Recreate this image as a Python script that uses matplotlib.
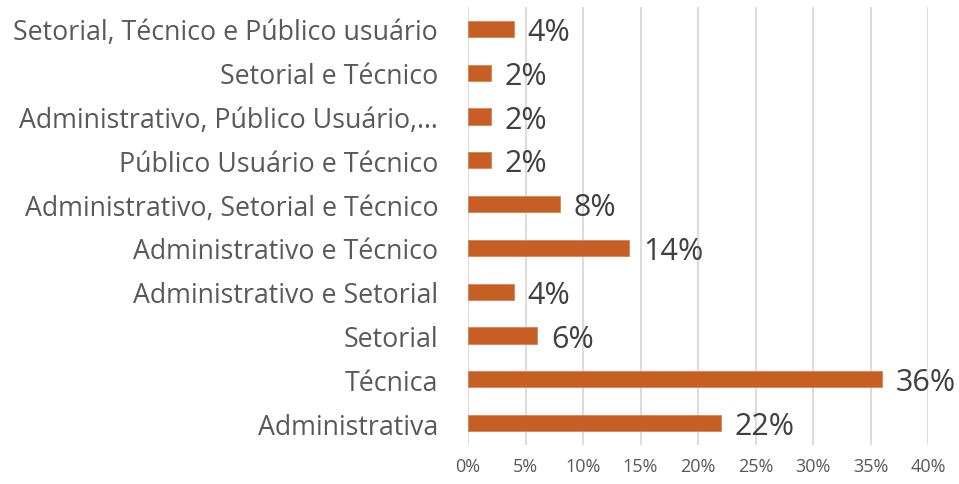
import matplotlib
matplotlib.use("Agg")
import matplotlib.pyplot as plt
from matplotlib.ticker import FuncFormatter, MultipleLocator

plt.rcParams['font.family'] = ['Open Sans', 'DejaVu Sans']

# categories bottom to top
categories = [
    "Administrativa",
    "Técnica",
    "Setorial",
    "Administrativo e Setorial",
    "Administrativo e Técnico",
    "Administrativo, Setorial e Técnico",
    "Público Usuário e Técnico",
    "Administrativo, Público Usuário,…",
    "Setorial e Técnico",
    "Setorial, Técnico e Público usuário",
]
values = [0.22, 0.36, 0.06, 0.04, 0.14, 0.08, 0.02, 0.02, 0.02, 0.04]

bar_color = "#C55F26"
text_color = "#595959"

fig = plt.figure(figsize=(9.59, 4.85), dpi=100)
ax = fig.add_axes([468 / 959, 1 - 446 / 485, (928 - 468) / 959, (446 - 8) / 485])

y = range(len(categories))
ax.barh(y, values, height=0.37, color=bar_color, edgecolor="#D9824F", linewidth=0.6, zorder=3)

for yi, v in zip(y, values):
    ax.text(v + 0.012, yi - 0.07, f"{round(v * 100)}%", va="center", ha="left",
            fontsize=22, color="#404040")

ax.set_xlim(0, 0.40)
ax.set_ylim(-0.5, len(categories) - 0.5)
ax.set_yticks(list(y))
ax.set_yticklabels(categories, fontsize=19.3, color=text_color)
ax.xaxis.set_major_locator(MultipleLocator(0.05))
ax.xaxis.set_major_formatter(FuncFormatter(lambda x, _: f"{round(x * 100)}%"))
ax.tick_params(axis="x", labelsize=13, colors=text_color, length=0, pad=9)
ax.tick_params(axis="y", length=0, pad=21.5)

ax.grid(axis="x", color="#D9D9D9", linewidth=1.3, zorder=0)
for s in ax.spines.values():
    s.set_visible(False)

fig.savefig("out.png", dpi=100)
